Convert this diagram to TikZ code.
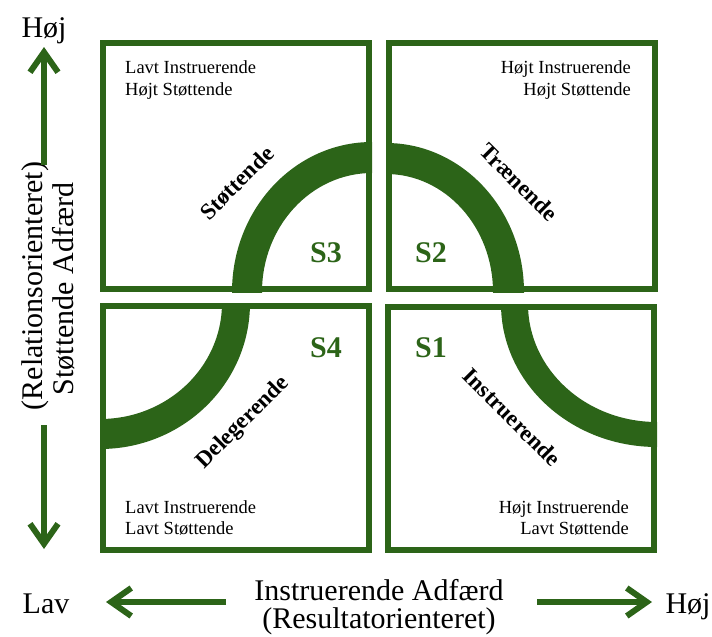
\documentclass[tikz,border=0pt]{standalone}
\usepackage{fontspec}
\setmainfont{Liberation Serif}
\usetikzlibrary{arrows.meta,backgrounds}
\definecolor{leafgreen}{RGB}{44,100,24}
\begin{document}
\begin{tikzpicture}[x=1pt,y=-1pt,
  quad/.style={draw=leafgreen,line width=6pt,inner sep=0pt},
  band/.style={fill=leafgreen,even odd rule},
  corner/.style={font=\fontsize{18.5}{22}\selectfont,inner sep=0pt},
  stage/.style={font=\fontsize{30}{36}\selectfont\bfseries,text=leafgreen,inner sep=0pt},
  mode/.style={font=\fontsize{23}{27}\selectfont\bfseries,inner sep=0pt},
  axis/.style={font=\fontsize{30}{36}\selectfont,inner sep=0pt},
  axisarrow/.style={draw=leafgreen,line width=6pt,-{Straight Barb[length=20pt,width=28pt]}}]
\useasboundingbox (0,0) rectangle (712,637);

% the four quadrants
\node[quad,minimum width=266pt,minimum height=246pt] (tl) at (236,166) {};
\node[quad,minimum width=266pt,minimum height=246pt] (tr) at (522,166) {};
\node[quad,minimum width=266pt,minimum height=244pt] (bl) at (236,428) {};
\node[quad,minimum width=266pt,minimum height=243pt] (br) at (521,428.5) {};

% the curved band running through all four quadrants
\begin{scope}[on background layer]
  \begin{scope}
    \clip (tl.south west) rectangle (tl.north east);
    \fill[band] (tl.south east) ellipse[x radius=140pt,y radius=150pt]
                (tl.south east) ellipse[x radius=110pt,y radius=119pt];
  \end{scope}
  \begin{scope}
    \clip (tr.south west) rectangle (tr.north east);
    \fill[band] (tr.south west) ellipse[x radius=138pt,y radius=149pt]
                (tr.south west) ellipse[x radius=107pt,y radius=118pt];
  \end{scope}
  \begin{scope}
    \clip (bl.south west) rectangle (bl.north east);
    \fill[band] (bl.north west) ellipse[x radius=150pt,y radius=146pt]
                (bl.north west) ellipse[x radius=122pt,y radius=116pt];
  \end{scope}
  \begin{scope}
    \clip (br.south west) rectangle (br.north east);
    \fill[band] (br.north east) ellipse[x radius=156pt,y radius=143pt]
                (br.north east) ellipse[x radius=129pt,y radius=118pt];
  \end{scope}
\end{scope}

% quadrant descriptions
\node[corner,anchor=base west] (tla) at (125,73) {Lavt Instruerende};
\node[corner,anchor=base west] (tlb) at (125,95) {Højt Støttende};
\node[corner,anchor=base east] (tra) at (631,73) {Højt Instruerende};
\node[corner,anchor=base east] (trb) at (631,95) {Højt Støttende};
\node[corner,anchor=base west] (bla) at (125,513) {Lavt Instruerende};
\node[corner,anchor=base west] (blb) at (125,534) {Lavt Støttende};
\node[corner,anchor=base east] (bra) at (629,513) {Højt Instruerende};
\node[corner,anchor=base east] (brb) at (629,534) {Lavt Støttende};

% stage labels
\node[stage,anchor=base east] (s3) at (342,262) {S3};
\node[stage,anchor=base west] (s2) at (415,262) {S2};
\node[stage,anchor=base east] (s4) at (342,357) {S4};
\node[stage,anchor=base west] (s1) at (415,357) {S1};

% leadership styles along the band
\node[mode,rotate=45]  (m3) at (237,183) {Støttende};
\node[mode,rotate=-45] (m2) at (519,182) {Trænende};
\node[mode,rotate=45]  (m4) at (243,423) {Delegerende};
\node[mode,rotate=-45] (m1) at (512,417) {Instruerende};

% vertical axis
\node[axis,anchor=base] (yhigh) at (44,37) {Høj};
\node[axis,anchor=base,rotate=90] (ytitleb) at (42,286) {(Relationsorienteret)};
\node[axis,anchor=base,rotate=90] (ytitlea) at (73,289) {Støttende Adfærd};
\coordinate (yup0) at (44,165);
\coordinate (yup1) at (44,47);
\coordinate (ydn0) at (44,425);
\coordinate (ydn1) at (44,549);
\draw[axisarrow] (yup0) -- (yup1);
\draw[axisarrow] (ydn0) -- (ydn1);

% horizontal axis
\node[axis,anchor=base] (xtitlea) at (379,600) {Instruerende Adfærd};
\node[axis,anchor=base] (xtitleb) at (379,628) {(Resultatorienteret)};
\node[axis,anchor=base] (xlow) at (46,613) {Lav};
\node[axis,anchor=base] (xhigh) at (688,613) {Høj};
\coordinate (xl0) at (226,602);
\coordinate (xl1) at (106,602);
\coordinate (xr0) at (537,602);
\coordinate (xr1) at (652,602);
\draw[axisarrow] (xl0) -- (xl1);
\draw[axisarrow] (xr0) -- (xr1);
\end{tikzpicture}
\end{document}
